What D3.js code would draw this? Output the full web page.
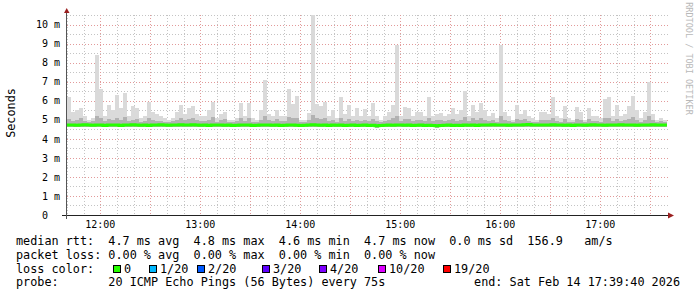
<!DOCTYPE html>
<html lang="en">
<head>
<meta charset="UTF-8">
<title>Smokeping latency</title>
<script src="https://d3js.org/d3.v7.min.js"></script>
<style>
  body { margin: 0; background: #fff; overflow: hidden; }
  text { font-family: "DejaVu Sans Mono", monospace; white-space: pre; fill: #000; }
</style>
</head>
<body>
<svg id="chart" width="697" height="297"></svg>
<script>
// one sample every 144 s, starting 11:40
const startTime = new Date(2026, 1, 14, 11, 40, 0)
const endTime = new Date(2026, 1, 14, 17, 40, 0)
const stepMs = 144000

// top of the smoke (ms)
const maxRtt = [
  6.2, 5.4, 5.5, 5.6, 5.2, 5.0, 5.1, 8.4, 6.6, 5.2,
  5.8, 5.5, 6.3, 5.6, 6.4, 5.2, 5.7, 5.6, 5.1, 5.2,
  5.95, 5.4, 5.3, 5.2, 5.1, 5.0, 5.1, 5.4, 5.8, 5.3,
  5.6, 5.7, 5.3, 5.2, 5.2, 5.5, 5.95, 5.1, 5.3, 5.4,
  5.0, 5.0, 5.1, 5.9, 5.2, 5.9, 5.1, 5.0, 5.5, 7.1,
  5.3, 5.2, 5.5, 5.2, 5.2, 6.6, 5.85, 6.25, 5.0, 5.0,
  5.35, 10.5, 5.85, 5.7, 5.95, 5.2, 5.5, 5.1, 6.2, 5.3,
  5.8, 5.2, 5.6, 5.2, 5.55, 5.2, 5.9, 5.2, 5.0, 5.2,
  5.4, 5.8, 8.9, 5.2, 5.65, 5.6, 5.2, 5.4, 5.4, 5.2,
  6.2, 5.2, 5.3, 5.35, 5.2, 5.3, 5.6, 5.3, 5.5, 6.5,
  5.2, 5.8, 5.4, 5.9, 5.5, 5.2, 5.35, 5.1, 8.9, 5.4,
  5.2, 5.0, 5.8, 5.3, 5.5, 5.2, 5.1, 5.0, 5.4, 5.4,
  5.3, 6.2, 5.2, 5.1, 5.7, 5.1, 5.0, 5.65, 5.4, 5.0,
  5.6, 5.2, 5.2, 5.1, 6.1, 6.2, 5.2, 5.8, 5.2, 5.3,
  5.7, 6.25, 5.5, 5.1, 5.4, 7.0, 5.3, 5.0, 5.1, 5.0
]
// top of the denser part of the smoke (ms)
const upperRtt = [
  5.05, 4.95, 5.0, 5.1, 4.95, 4.9, 4.95, 5.2, 5.1, 4.95,
  5.05, 5.0, 5.1, 5.0, 5.15, 4.95, 5.0, 5.05, 4.9, 4.95,
  5.1, 5.0, 4.95, 4.95, 4.9, 4.9, 4.95, 5.0, 5.1, 5.0,
  5.05, 5.1, 5.0, 4.95, 4.95, 5.0, 5.15, 4.9, 5.0, 5.05,
  4.9, 4.9, 4.95, 5.1, 4.95, 5.1, 4.9, 4.9, 5.0, 5.2,
  5.0, 4.95, 5.05, 4.95, 4.95, 5.15, 5.1, 5.1, 4.9, 4.9,
  5.0, 5.25, 5.1, 5.05, 5.1, 4.95, 5.0, 4.9, 5.1, 4.95,
  5.05, 4.95, 5.0, 4.95, 5.0, 4.95, 5.05, 4.95, 4.9, 4.95,
  5.0, 5.1, 5.2, 4.95, 5.05, 5.05, 4.95, 5.0, 5.0, 4.95,
  5.1, 4.95, 5.0, 5.0, 4.95, 5.0, 5.05, 4.95, 5.0, 5.15,
  4.95, 5.1, 5.0, 5.1, 5.0, 4.95, 5.0, 4.9, 5.2, 5.0,
  4.95, 4.9, 5.05, 5.0, 5.05, 4.95, 4.9, 4.9, 5.0, 5.0,
  5.0, 5.1, 4.95, 4.9, 5.05, 4.9, 4.9, 5.05, 5.0, 4.9,
  5.05, 4.95, 4.95, 4.9, 5.1, 5.1, 4.95, 5.05, 4.95, 5.0,
  5.05, 5.15, 5.0, 4.9, 5.0, 5.2, 5.0, 4.9, 4.95, 4.9
]
// median rtt (ms)
const medRtt = [
  4.73, 4.72, 4.71, 4.72, 4.74, 4.72, 4.71, 4.73, 4.72, 4.70,
  4.72, 4.73, 4.72, 4.70, 4.72, 4.73, 4.74, 4.72, 4.71, 4.72,
  4.70, 4.72, 4.73, 4.74, 4.72, 4.71, 4.72, 4.72, 4.74, 4.72,
  4.73, 4.74, 4.72, 4.71, 4.72, 4.70, 4.72, 4.73, 4.72, 4.71,
  4.72, 4.70, 4.71, 4.73, 4.72, 4.72, 4.70, 4.71, 4.72, 4.73,
  4.72, 4.71, 4.72, 4.70, 4.71, 4.73, 4.72, 4.71, 4.70, 4.71,
  4.72, 4.74, 4.72, 4.71, 4.72, 4.70, 4.72, 4.71, 4.72, 4.70,
  4.71, 4.72, 4.70, 4.71, 4.72, 4.70, 4.71, 4.69, 4.70, 4.71,
  4.72, 4.71, 4.73, 4.72, 4.71, 4.72, 4.70, 4.71, 4.72, 4.70,
  4.71, 4.70, 4.69, 4.70, 4.71, 4.72, 4.70, 4.71, 4.70, 4.72,
  4.71, 4.72, 4.70, 4.72, 4.73, 4.72, 4.74, 4.72, 4.73, 4.72,
  4.71, 4.72, 4.73, 4.72, 4.74, 4.75, 4.73, 4.72, 4.73, 4.72,
  4.73, 4.74, 4.72, 4.73, 4.71, 4.72, 4.70, 4.72, 4.73, 4.71,
  4.72, 4.74, 4.72, 4.73, 4.71, 4.72, 4.73, 4.72, 4.74, 4.72,
  4.73, 4.72, 4.71, 4.72, 4.73, 4.72, 4.74, 4.72, 4.73, 4.72
]
// bottom of the smoke (ms)
const minRtt = [
  4.62, 4.61, 4.62, 4.60, 4.62, 4.63, 4.61, 4.60, 4.62, 4.61,
  4.62, 4.61, 4.60, 4.61, 4.62, 4.62, 4.63, 4.61, 4.60, 4.62,
  4.61, 4.62, 4.62, 4.63, 4.61, 4.60, 4.62, 4.61, 4.63, 4.62,
  4.62, 4.63, 4.61, 4.60, 4.62, 4.61, 4.61, 4.62, 4.61, 4.60,
  4.62, 4.60, 4.61, 4.62, 4.61, 4.62, 4.60, 4.61, 4.62, 4.62,
  4.61, 4.60, 4.62, 4.60, 4.61, 4.62, 4.61, 4.60, 4.60, 4.61,
  4.61, 4.63, 4.62, 4.60, 4.61, 4.60, 4.61, 4.60, 4.62, 4.60,
  4.61, 4.61, 4.60, 4.60, 4.61, 4.60, 4.60, 4.59, 4.60, 4.61,
  4.61, 4.60, 4.62, 4.61, 4.60, 4.61, 4.60, 4.60, 4.61, 4.60,
  4.60, 4.60, 4.59, 4.60, 4.61, 4.61, 4.60, 4.60, 4.60, 4.61,
  4.60, 4.61, 4.60, 4.61, 4.62, 4.61, 4.63, 4.61, 4.62, 4.61,
  4.60, 4.61, 4.62, 4.61, 4.63, 4.64, 4.62, 4.61, 4.62, 4.61,
  4.62, 4.63, 4.61, 4.62, 4.60, 4.61, 4.60, 4.61, 4.62, 4.60,
  4.61, 4.63, 4.61, 4.62, 4.60, 4.61, 4.62, 4.61, 4.63, 4.61,
  4.62, 4.61, 4.60, 4.61, 4.62, 4.61, 4.63, 4.61, 4.62, 4.61
]

const yTicks = [0, 1, 2, 3, 4, 5, 6, 7, 8, 9, 10]
const yTickLabels = [" 0  ", " 1 m", " 2 m", " 3 m", " 4 m", " 5 m", " 6 m", " 7 m", " 8 m", " 9 m", "10 m"]

const lossLabels = ["0", "1/20", "2/20", "3/20", "4/20", "10/20", "19/20"]
const lossColors = ["#26ff00", "#00b8ff", "#0059ff", "#5e00ff", "#7e00ff", "#dd00ff", "#ff0000"]

const legendLines = [
  "median rtt:  4.7 ms avg  4.8 ms max  4.6 ms min  4.7 ms now  0.0 ms sd  156.9   am/s",
  "packet loss: 0.00 % avg  0.00 % max  0.00 % min  0.00 % now",
  "loss color:",
  "probe:       20 ICMP Echo Pings (56 Bytes) every 75s"
]
const endLabel = "end: Sat Feb 14 17:39:40 2026"

// layout
const plot = {left: 67, right: 667, top: 15, bottom: 215}
const legendBase = [245, 258.5, 272.5, 286]
const lossBoxX = [113, 149, 197, 262, 319, 378, 443]

const svg = d3.select("#chart")
svg.append("rect").attr("width", 697).attr("height", 297).attr("fill", "#fff")

const x = d3.scaleTime().domain([startTime, endTime]).range([plot.left, plot.right])
const y = d3.scaleLinear().domain([0, 10.5]).range([plot.bottom, plot.top])

// grid
const grid = svg.append("g").attr("shape-rendering", "crispEdges")
const minorY = d3.range(0.5, 10.51, 1)
grid.selectAll(".hmin").data(minorY).join("line")
    .attr("x1", plot.left).attr("x2", plot.right + 1)
    .attr("y1", d => Math.round(y(d)) + 0.5).attr("y2", d => Math.round(y(d)) + 0.5)
    .attr("stroke", "#c4c4c4").attr("stroke-dasharray", "1,2")
grid.selectAll(".hmaj").data(yTicks.slice(1)).join("line")
    .attr("x1", plot.left).attr("x2", plot.right + 1)
    .attr("y1", d => Math.round(y(d)) + 0.5).attr("y2", d => Math.round(y(d)) + 0.5)
    .attr("stroke", "#e29a9a").attr("stroke-dasharray", "1,2")
const vMinor = d3.timeMinute.every(10).range(startTime, endTime).filter(d => d.getMinutes() % 30 !== 0)
const vMajor = d3.timeMinute.every(30).range(startTime, endTime)
grid.selectAll(".vmin").data(vMinor).join("line")
    .attr("x1", d => Math.round(x(d)) + 0.5).attr("x2", d => Math.round(x(d)) + 0.5)
    .attr("y1", plot.top).attr("y2", plot.bottom)
    .attr("stroke", "#c4c4c4").attr("stroke-dasharray", "1,2")
grid.selectAll(".vmaj").data(vMajor).join("line")
    .attr("x1", d => Math.round(x(d)) + 0.5).attr("x2", d => Math.round(x(d)) + 0.5)
    .attr("y1", plot.top).attr("y2", plot.bottom)
    .attr("stroke", "#e29a9a").attr("stroke-dasharray", "1,2")

// smoke
const samples = maxRtt.map((m, i) => ({
  t0: new Date(startTime.getTime() + i * stepMs),
  t1: new Date(startTime.getTime() + (i + 1) * stepMs),
  max: m, upper: upperRtt[i], med: medRtt[i], min: minRtt[i]
}))
const smoke = svg.append("g").attr("shape-rendering", "crispEdges")
smoke.selectAll(".light").data(samples).join("rect")
    .attr("x", d => x(d.t0)).attr("width", d => x(d.t1) - x(d.t0))
    .attr("y", d => y(d.max)).attr("height", d => y(d.min) - y(d.max))
    .attr("fill", "#dadada")
smoke.selectAll(".mid").data(samples).join("rect")
    .attr("x", d => x(d.t0)).attr("width", d => x(d.t1) - x(d.t0))
    .attr("y", d => y(d.upper)).attr("height", d => y(d.min) - y(d.upper))
    .attr("fill", "#b2b2b2")

// median line, coloured by loss (all zero here)
const medPts = samples.map(d => [d.t0, d.med])
medPts.push([endTime, medRtt[medRtt.length - 1]])
svg.append("path")
    .datum(medPts)
    .attr("fill", "none")
    .attr("stroke", lossColors[0])
    .attr("stroke-width", 3)
    .attr("d", d3.line().curve(d3.curveStepAfter).x(d => x(d[0])).y(d => y(d[1])))

// axes
svg.append("line").attr("x1", 62).attr("x2", 669).attr("y1", 215.5).attr("y2", 215.5)
    .attr("stroke", "#222").attr("shape-rendering", "crispEdges")
svg.append("line").attr("x1", 66.5).attr("x2", 66.5).attr("y1", 219).attr("y2", 12)
    .attr("stroke", "#555").attr("shape-rendering", "crispEdges")
svg.append("path").attr("d", "M64,13L69.5,13L66.7,8Z").attr("fill", "#9b2020")
svg.append("path").attr("d", "M668,212.5L668,218.5L674,215.5Z").attr("fill", "#9b2020")

// y tick labels
svg.selectAll(".ylab").data(yTicks).join("text")
    .attr("x", 36).attr("y", d => y(d) + 3.7)
    .style("font-size", "10px")
    .text((d, i) => yTickLabels[i])

// x tick labels
svg.selectAll(".xlab").data(d3.timeHour.every(1).range(new Date(2026, 1, 14, 12), endTime)).join("text")
    .attr("x", d => x(d)).attr("y", 228)
    .attr("text-anchor", "middle")
    .style("font-size", "10px")
    .text(d3.timeFormat("%H:%M"))

// axis title and watermark
svg.append("text")
    .attr("transform", "translate(15,113) rotate(-90)")
    .attr("text-anchor", "middle")
    .style("font-size", "11.8px")
    .text("Seconds")
svg.append("text")
    .attr("transform", "translate(685.5,58.5) rotate(90)")
    .attr("text-anchor", "middle")
    .style("font-size", "8.5px")
    .style("fill", "#b8b8b8")
    .text("RRDTOOL / TOBI OETIKER")

// legend
svg.selectAll(".leg").data(legendLines).join("text")
    .attr("x", 16).attr("y", (d, i) => legendBase[i])
    .style("font-size", "11.8px")
    .text(d => d)
svg.append("text")
    .attr("x", 680).attr("y", legendBase[3])
    .attr("text-anchor", "end")
    .style("font-size", "11.8px")
    .text(endLabel)

const loss = svg.selectAll(".loss").data(lossLabels).join("g")
    .attr("transform", (d, i) => "translate(" + lossBoxX[i] + "," + (legendBase[2] - 7.5) + ")")
loss.append("rect")
    .attr("x", 0.5).attr("y", 0.5).attr("width", 7).attr("height", 7)
    .attr("fill", (d, i) => lossColors[i]).attr("stroke", "#000")
    .attr("shape-rendering", "crispEdges")
loss.append("text")
    .attr("x", 11).attr("y", 7.5)
    .style("font-size", "11.8px")
    .text(d => d)
</script>
</body>
</html>
